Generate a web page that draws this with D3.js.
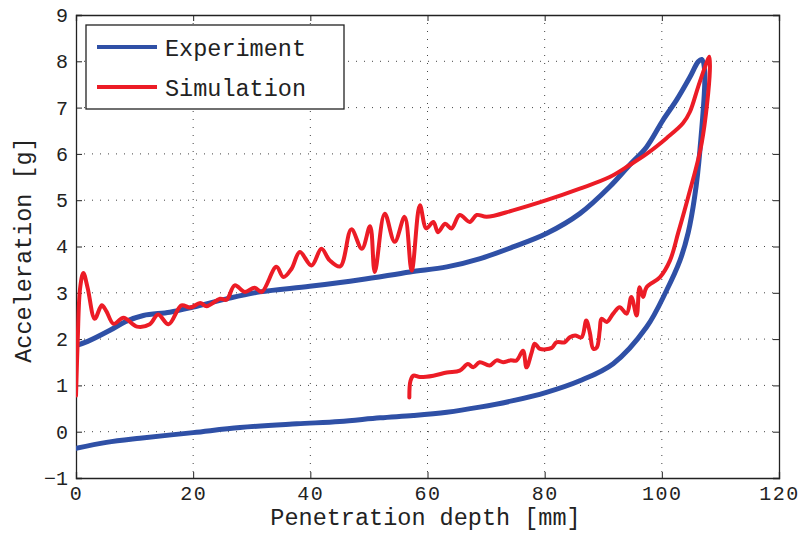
<!DOCTYPE html>
<html><head><meta charset="utf-8">
<script src="https://cdn.jsdelivr.net/npm/d3@7"></script>
<style>body{margin:0;background:#fff}svg{display:block}</style>
</head><body>
<svg id="c" width="804" height="535"></svg>
<script>
const xTicks = [0,20,40,60,80,100,120];
const yTicks = [-1,0,1,2,3,4,5,6,7,8,9];
const seriesNames = ["Experiment","Simulation"];
const seriesColors = ["#2f50a6","#ec1c26"];

const expX = [0,2,5.8,8.5,11.5,16,20,25.7,31.4,39.9,48.5,57,63.3,69,74.6,80.3,86,91.1,94.5,97.4,100.2,102.5,104.8,106.2,106.8,107.3,106.5,105.6,104.5,103.1,100.8,97.4,91.7,86,80.3,74.6,68.9,63.3,57.6,51.9,45,37.7,28,20,10.9,5.2,0];
const expY = [1.86,1.95,2.19,2.38,2.51,2.58,2.69,2.87,3.02,3.14,3.28,3.45,3.56,3.74,3.99,4.28,4.71,5.29,5.76,6.15,6.73,7.16,7.66,7.99,8.04,7.81,6.08,5.07,4.3,3.70,3.05,2.26,1.47,1.10,0.85,0.67,0.53,0.42,0.35,0.30,0.22,0.17,0.09,-0.02,-0.14,-0.23,-0.36];

const simX = [0,0.3,0.7,1.25,2.0,3.2,4.4,5.2,6.4,8.1,10.4,12.6,14.0,15.8,18.0,19.5,21.2,22.3,24.6,25.7,27.1,28.8,30.5,31.7,34.2,35.4,36.8,38.2,40.2,41.9,43.3,45.1,47.0,48.8,50.2,51.0,52.7,54.4,56.1,57.3,58.7,59.8,61.0,61.8,63,64.1,65.5,67.2,68.4,70.1,74.6,80.3,86,91.1,94.5,97.4,100.8,103.6,104.8,106.2,107.6,108.1,108.2,106.8,104.5,102.8,101.4,99.7,97.4,96.8,96.2,95.7,94.8,94.0,92.8,91.7,90.6,89.7,89.4,88.9,88.3,87.7,87.1,86.3,85.2,84.3,83.4,82.0,81.2,79.2,78.3,77.8,76.9,76.3,75.2,74.1,72.9,71.8,70.6,68.9,67.8,66.9,65.5,63.3,61.0,58.7,57.6,57.1,56.9];
const simY = [0.78,2.0,3.1,3.43,3.1,2.44,2.73,2.6,2.33,2.46,2.27,2.32,2.53,2.32,2.73,2.68,2.78,2.71,2.87,2.85,3.16,3.02,3.11,3.02,3.56,3.34,3.52,3.88,3.59,3.95,3.70,3.57,4.37,3.95,4.44,3.45,4.71,4.10,4.64,3.48,4.89,4.39,4.53,4.31,4.49,4.39,4.68,4.53,4.68,4.64,4.78,5.0,5.25,5.50,5.76,6.0,6.34,6.66,6.91,7.45,7.96,8.10,7.81,6.23,5.07,4.3,3.70,3.34,3.12,2.91,3.12,2.51,2.91,2.55,2.69,2.55,2.37,2.44,2.19,1.82,1.79,2.15,2.40,2.04,2.08,2.04,1.93,1.93,1.81,1.79,1.90,1.72,1.39,1.75,1.54,1.54,1.50,1.54,1.43,1.50,1.39,1.46,1.32,1.28,1.21,1.18,1.21,1.10,0.74];

const L=76,R=779,T=15,B=478;
const svg=d3.select("#c");
const x=d3.scaleLinear().domain([0,120]).range([L,R]);
const y=d3.scaleLinear().domain([-1,9]).range([B,T]);
const font="'Liberation Mono','Courier New',monospace";

// grid
const g=svg.append("g");
g.selectAll(".gx").data(xTicks.slice(1,-1)).join("line")
 .attr("x1",d=>x(d)).attr("x2",d=>x(d)).attr("y1",T).attr("y2",B)
 .attr("stroke","#444").attr("stroke-width",1).attr("stroke-dasharray","1,7");
g.selectAll(".gy").data(yTicks.slice(1,-1)).join("line")
 .attr("y1",d=>y(d)).attr("y2",d=>y(d)).attr("x1",L).attr("x2",R)
 .attr("stroke","#444").attr("stroke-width",1).attr("stroke-dasharray","1,7");

// axes
const ax=svg.append("g").attr("font-family",font);
const bx=ax.append("g").attr("transform",`translate(0,${B})`).call(d3.axisBottom(x).tickValues(xTicks).tickSize(-6).tickPadding(8));
const tx=ax.append("g").attr("transform",`translate(0,${T})`).call(d3.axisTop(x).tickValues(xTicks).tickSize(-6).tickFormat(""));
const ly=ax.append("g").attr("transform",`translate(${L},0)`).call(d3.axisLeft(y).tickValues(yTicks).tickSize(-6).tickPadding(8).tickFormat(d=>d<0?"\u2212"+Math.abs(d):d));
const ry=ax.append("g").attr("transform",`translate(${R},0)`).call(d3.axisRight(y).tickValues(yTicks).tickSize(-6).tickFormat(""));
[bx,tx,ly,ry].forEach(a=>{a.select(".domain").attr("stroke","#222").attr("stroke-width",1.3);a.selectAll(".tick line").attr("stroke","#222");});
[bx,ly].forEach(a=>a.selectAll("text").attr("font-size",20).attr("fill","#222").attr("font-family",font));
bx.selectAll("text").attr("letter-spacing",1.5);

// lines
const line=d3.line().curve(d3.curveCatmullRom.alpha(0.5));
svg.append("defs").append("clipPath").attr("id","cp").append("rect").attr("x",L).attr("y",T).attr("width",R-L).attr("height",B-T);
const lg=svg.append("g").attr("clip-path","url(#cp)");
lg.append("path").attr("d",line(expX.map((v,i)=>[x(v),y(expY[i])])))
 .attr("fill","none").attr("stroke",seriesColors[0]).attr("stroke-width",5).attr("stroke-linejoin","round").attr("stroke-linecap","round");
lg.append("path").attr("d",line(simX.map((v,i)=>[x(v),y(simY[i])])))
 .attr("fill","none").attr("stroke",seriesColors[1]).attr("stroke-width",4).attr("stroke-linejoin","round").attr("stroke-linecap","round");

// legend
const leg=svg.append("g");
leg.append("rect").attr("x",86).attr("y",25).attr("width",258).attr("height",84).attr("fill","#fff").attr("stroke","#222").attr("stroke-width",1.3);
seriesNames.forEach((n,i)=>{
  const yy=47+i*40;
  leg.append("line").attr("x1",97).attr("x2",157).attr("y1",yy).attr("y2",yy).attr("stroke",seriesColors[i]).attr("stroke-width",4);
  leg.append("text").attr("x",165).attr("y",yy+9).attr("font-family",font).attr("font-size",23.5).attr("fill","#222").text(n);
});

// axis labels
svg.append("text").attr("x",(L+R)/2-2).attr("y",525).attr("text-anchor","middle").attr("font-family",font).attr("font-size",23.5).attr("fill","#222").text("Penetration depth [mm]");
svg.append("text").attr("transform","translate(31,250) rotate(-90)").attr("text-anchor","middle").attr("font-family",font).attr("font-size",23.5).attr("fill","#222").text("Acceleration [g]");
</script>
</body></html>
